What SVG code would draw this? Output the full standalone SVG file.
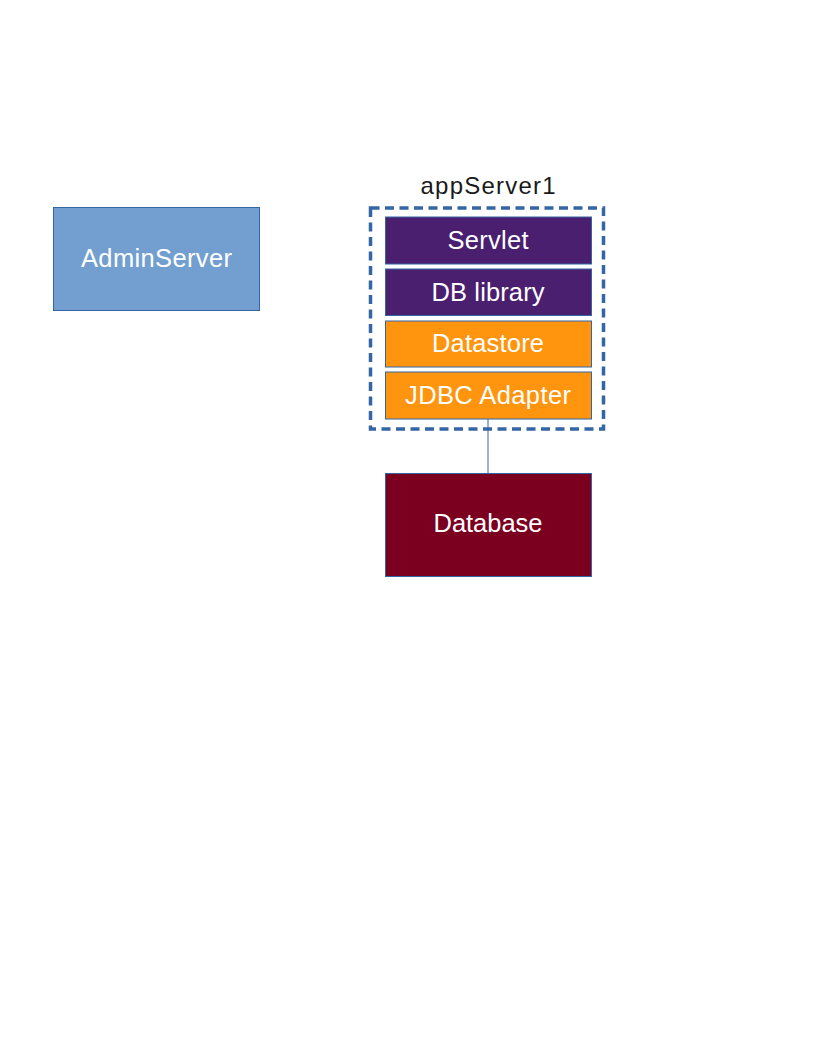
<svg xmlns="http://www.w3.org/2000/svg" width="816" height="1056" viewBox="0 0 816 1056">
<style>
.box{stroke:#3465a4;stroke-width:1}
.lbl{font-family:"Liberation Sans",Arial,sans-serif;font-size:25.5px;fill:#ffffff;text-anchor:middle}
.title{font-family:"Liberation Sans",Arial,sans-serif;font-size:24px;fill:#1a1a1a;text-anchor:middle}
.purple{fill:#4b1f6f}
.orange{fill:#ff950e}
</style>
<rect width="816" height="1056" fill="#ffffff"/>
<g id="connectors">
<line x1="488" y1="419" x2="488" y2="473" stroke="#3465a4" stroke-width="1"/>
</g>
<g id="AdminServer">
<rect class="box" x="53.5" y="207.5" width="206" height="103" fill="#729fcf"/>
<text class="lbl" x="156.5" y="267" textLength="151" lengthAdjust="spacing">AdminServer</text>
</g>
<g id="appServer1">
<rect x="370.5" y="208" width="233" height="221" fill="none" stroke="#3465a4" stroke-width="3.5" stroke-dasharray="9,5.5"/>
<text class="title" x="488" y="194" textLength="135" lengthAdjust="spacing">appServer1</text>
</g>
<g id="Servlet">
<rect class="box purple" x="385.5" y="217" width="206" height="47"/>
<text class="lbl" x="488" y="249" textLength="81" lengthAdjust="spacing">Servlet</text>
</g>
<g id="DBlibrary">
<rect class="box purple" x="385.5" y="269" width="206" height="46.5"/>
<text class="lbl" x="488" y="300.5" textLength="113" lengthAdjust="spacing">DB library</text>
</g>
<g id="Datastore">
<rect class="box orange" x="385.5" y="321" width="206" height="46"/>
<text class="lbl" x="488" y="352" textLength="112" lengthAdjust="spacing">Datastore</text>
</g>
<g id="JDBCAdapter">
<rect class="box orange" x="385.5" y="372" width="206" height="47"/>
<text class="lbl" x="488" y="403.5" textLength="166" lengthAdjust="spacing">JDBC Adapter</text>
</g>
<g id="Database">
<rect class="box" x="385.5" y="473.5" width="206" height="103" fill="#7b0020"/>
<text class="lbl" x="488" y="532" textLength="109" lengthAdjust="spacing">Database</text>
</g>
</svg>
